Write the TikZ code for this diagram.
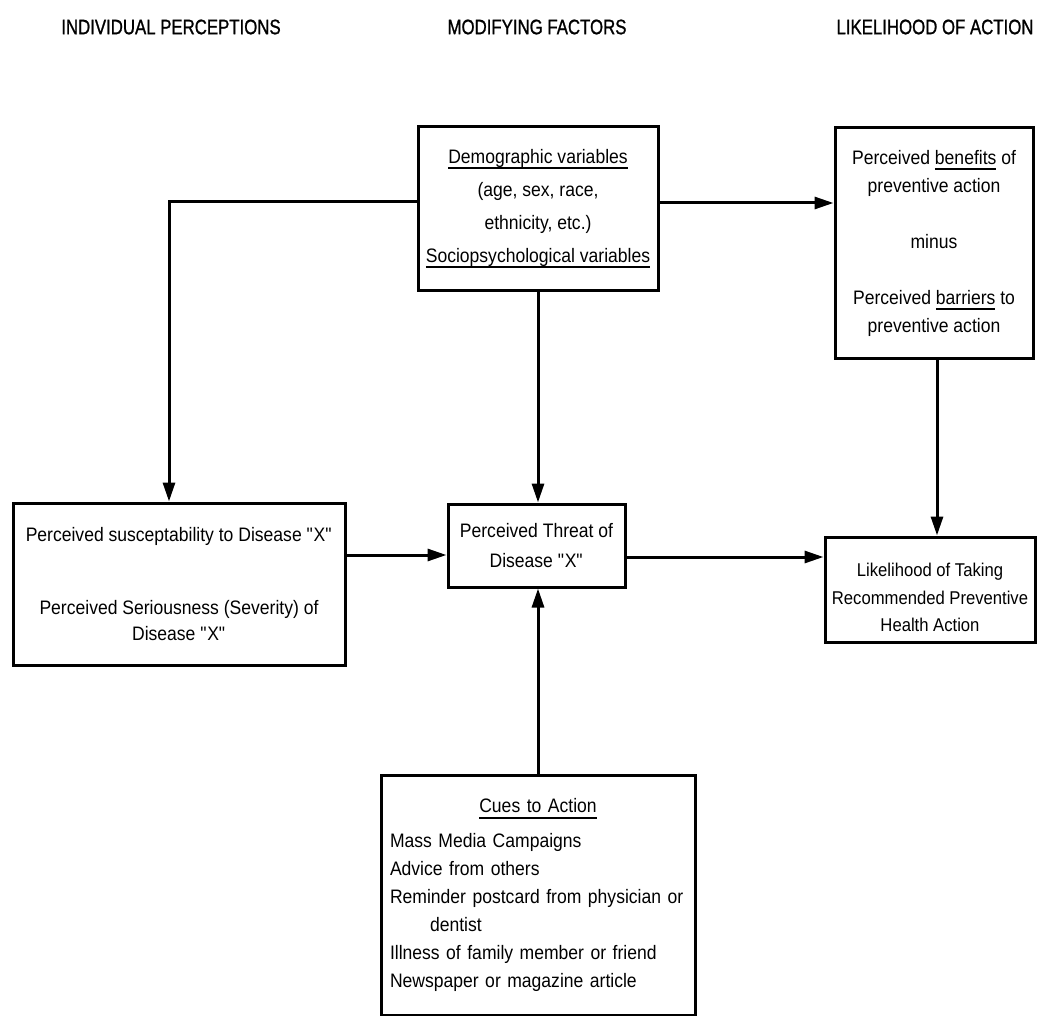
\documentclass[tikz,border=0pt]{standalone}
\usepackage{fontspec}
\setmainfont[FakeStretch=0.9]{Liberation Sans}
\newfontfamily\headfont[FakeStretch=0.8,FakeBold=1]{Liberation Sans}
\usetikzlibrary{arrows.meta}
\newcommand\ulx[1]{\setbox0\hbox{#1}\rlap{\vrule width\wd0 height-4pt depth 6pt}\box0\relax}
\newcommand\qx{\textquotedbl}
\tikzset{
  box/.style={draw, line width=3pt, inner sep=0pt, align=center,
    font=\fontsize{19.5}{28}\selectfont},
  arr/.style={line width=3pt, -{Triangle[length=19pt,width=12pt]}},
  head/.style={font=\headfont\fontsize{21}{24}\selectfont, inner sep=0pt}
}
\begin{document}
\begin{tikzpicture}[x=1pt,y=-1pt]
\useasboundingbox (0,0) rectangle (1046,1016);
\node[head] (h1) at (171,27) {INDIVIDUAL PERCEPTIONS};
\node[head] (h2) at (537,27) {MODIFYING FACTORS};
\node[head] (h3) at (935,27) {LIKELIHOOD OF ACTION};

\node[box, minimum width=240pt, minimum height=163pt,
  font=\fontsize{19.5}{33}\selectfont] (dem) at (538,208.5)
  {\ulx{Demographic variables}\\(age, sex, race,\\ethnicity, etc.)\\\ulx{Sociopsychological variables}};

\node[box, minimum width=198pt, minimum height=230pt] (ben) at (934,243)
  {Perceived \ulx{benefits} of\\preventive action\\[28pt]minus\\[28pt]Perceived \ulx{barriers} to\\preventive action};

\node[box, minimum width=332pt, minimum height=162pt,
  font=\fontsize{19.5}{26}\selectfont] (sus) at (179,584)
  {Perceived susceptability to Disease \qx X\qx\\[47pt]Perceived Seriousness (Severity) of\\Disease \qx X\qx};

\node[box, minimum width=177pt, minimum height=83pt,
  font=\fontsize{19.5}{30}\selectfont] (thr) at (536.5,545.5)
  {Perceived Threat of\\Disease \qx X\qx};

\node[box, minimum width=210pt, minimum height=105pt,
  font=\fontsize{18.5}{27.5}\selectfont] (lik) at (930,589.5)
  {\rule{0pt}{30pt}Likelihood of Taking\\Recommended Preventive\\Health Action};

\node[box, minimum width=314pt, minimum height=240pt, text width=296pt,
  align=left] (cue) at (538,895)
  {\hbox to \linewidth{\hfil\ulx{Cues to Action}\hfil}\\[7pt]
   Mass Media Campaigns\\
   Advice from others\\
   Reminder postcard from physician or\\
   \hspace*{40pt}dentist\\
   Illness of family member or friend\\
   Newspaper or magazine article};

\draw[arr] ([yshift=6.5pt]dem.west) -| ([xshift=-10pt]sus.north);
\draw[arr] ([yshift=5.5pt]dem.east) -- ([yshift=5.5pt]dem.east -| ben.west);
\draw[arr] (dem.south) -- (dem.south |- thr.north);
\draw[arr] ([xshift=3pt]ben.south) -- ([xshift=3pt]ben.south |- lik.north);
\draw[arr] ([yshift=29pt]sus.east) -- ([yshift=29pt]sus.east -| thr.west);
\draw[arr] ([yshift=-11.5pt]thr.east) -- ([yshift=-11.5pt]thr.east -| lik.west);
\draw[arr] (cue.north) -- (cue.north |- thr.south);
\end{tikzpicture}
\end{document}
